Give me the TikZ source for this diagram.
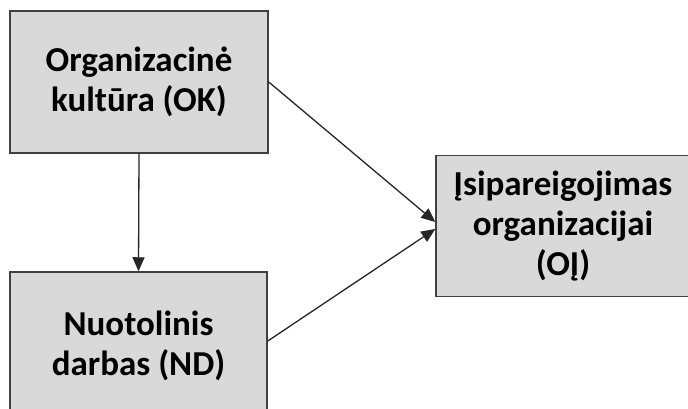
\documentclass[tikz,border=0pt]{standalone}
\usepackage{fontspec}
\setmainfont{Carlito}
\usetikzlibrary{arrows.meta}
\begin{document}
\begin{tikzpicture}[x=1pt,y=-1pt,
  box/.style={draw=black!75, line width=1.5pt, fill=black!15, align=center,
    font=\bfseries\fontsize{35}{40}\selectfont, inner sep=0pt},
  link/.style={draw=black!85, line width=1.3pt, -{Triangle[length=14pt,width=12pt]}}]
\useasboundingbox (0,0) rectangle (688,408);
\clip (0,0) rectangle (688,408);
\fill[white] (0,0) rectangle (688,408);
% the three constructs of the model
\node[box, minimum width=258pt, minimum height=142pt] (OK) at (139,82) {Organizacinė\\kultūra (OK)};
\node[box, minimum width=257pt, minimum height=148pt] (ND) at (138.5,346) {Nuotolinis\\darbas (ND)};
\node[box, minimum width=254pt, minimum height=141pt] (OJ) at (563,226) {Įsipareigojimas\\organizacijai\\(OĮ)};
% hypothesised links
\draw[link] (OK.east) -- ([yshift=4pt]OJ.west);
\draw[link] (OK.south) -- (ND.north);
\draw[link] ([yshift=5pt]ND.east) -- ([yshift=-3pt]OJ.west);
\end{tikzpicture}
\end{document}
